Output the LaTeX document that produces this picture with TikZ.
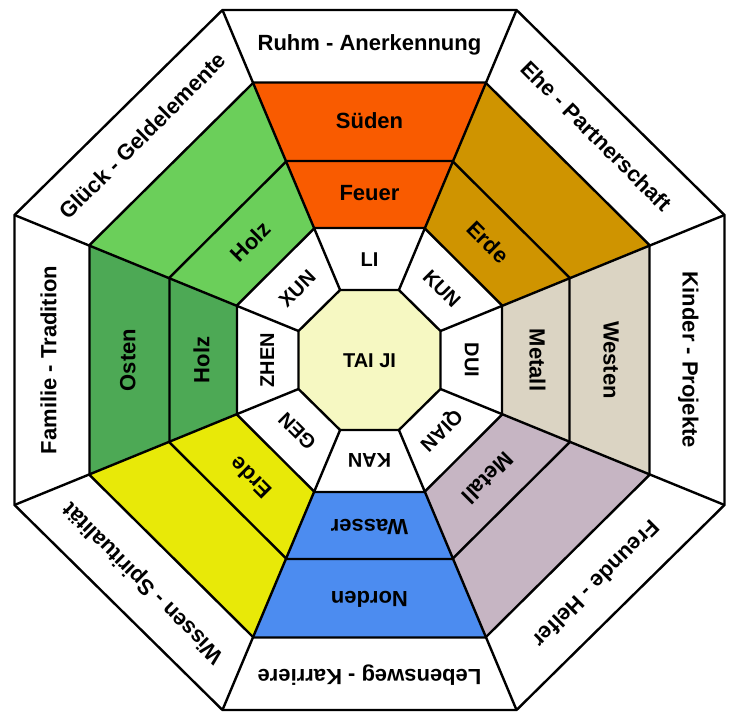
\documentclass[tikz,border=0pt]{standalone}
\usepackage{fontspec}
\setmainfont{Liberation Sans}
\definecolor{cE}{HTML}{DBD4C3}
\definecolor{cNE}{HTML}{CF9400}
\definecolor{cN}{HTML}{F95B00}
\definecolor{cNW}{HTML}{6BCF5A}
\definecolor{cW}{HTML}{4DA955}
\definecolor{cSW}{HTML}{E8E908}
\definecolor{cS}{HTML}{4C8CF0}
\definecolor{cSE}{HTML}{C6B5C3}
\definecolor{taiji}{HTML}{F6F8C2}
\tikzset{
  biglab/.style={font=\fontsize{22}{24}\selectfont\bfseries, text=black, text height=15.8pt, text depth=0pt, inner sep=0pt},
  smalllab/.style={font=\fontsize{20}{22}\selectfont\bfseries, text=black, text height=14.3pt, text depth=0pt, inner sep=0pt},
  ring/.style={draw=black, line width=2.4pt},
  spoke/.style={draw=black, line width=2.4pt}
}
\begin{document}
\begin{tikzpicture}[x=1pt,y=1pt]
\fill[white] (-369.5,-356) rectangle (361.5,360);
\useasboundingbox (-369.5,-356) rectangle (361.5,360);
\foreach \i/\ax/\ay in {1/355/350,2/280/277.5,3/200/199,4/132.5/132,5/71/70}{
  \foreach \k in {0,...,7}{
    \coordinate (v\i-\k) at ({\ax/cos(22.5)*cos(22.5+45*\k)},{\ay/cos(22.5)*sin(22.5+45*\k)});
  }
}
% coloured sectors
\foreach \m/\c in {0/cE,1/cNE,2/cN,3/cNW,4/cW,5/cSW,6/cS,7/cSE}{
  \pgfmathtruncatemacro\p{mod(\m+7,8)}
  \fill[\c] (v2-\p) -- (v2-\m) -- (v4-\m) -- (v4-\p) -- cycle;
}
\fill[taiji] (v5-0) -- (v5-1) -- (v5-2) -- (v5-3) -- (v5-4) -- (v5-5) -- (v5-6) -- (v5-7) -- cycle;
% rings
\foreach \i in {1,...,5}{
  \draw[ring] (v\i-0) -- (v\i-1) -- (v\i-2) -- (v\i-3) -- (v\i-4) -- (v\i-5) -- (v\i-6) -- (v\i-7) -- cycle;
}
% spokes
\foreach \k in {0,...,7}{
  \draw[spoke] (v1-\k) -- (v5-\k);
}
% outer ring labels
\foreach \a/\t [count=\n] in {90/Ruhm - Anerkennung,45/Ehe - Partnerschaft,0/Kinder - Projekte,-45/Freunde - Helfer,-90/Lebensweg - Karriere,-135/Wissen - Spiritualität,180/Familie - Tradition,135/Glück - Geldelemente}{
  \node[biglab, rotate={\a-90}] (o\n) at ({321*cos(\a)},{317*sin(\a)}) {\t};
}
% directions
\foreach \a/\t [count=\n] in {90/Süden,0/Westen,-90/Norden,180/Osten}{
  \node[biglab, rotate={\a-90}] (d\n) at ({242*cos(\a)},{239*sin(\a)}) {\t};
}
% elements
\foreach \a/\t [count=\n] in {90/Feuer,45/Erde,0/Metall,-45/Metall,-90/Wasser,-135/Erde,180/Holz,135/Holz}{
  \node[biglab, rotate={\a-90}] (e\n) at ({168*cos(\a)},{167*sin(\a)}) {\t};
}
% trigrams
\foreach \a/\t [count=\n] in {90/LI,45/KUN,0/DUI,-45/QIAN,-90/KAN,-135/GEN,180/ZHEN,135/XUN}{
  \node[smalllab, rotate={\a-90}] (g\n) at ({102.5*cos(\a)},{101*sin(\a)}) {\t};
}
\node[smalllab] (taichi) at (0,0) {TAI JI};
\end{tikzpicture}
\end{document}
